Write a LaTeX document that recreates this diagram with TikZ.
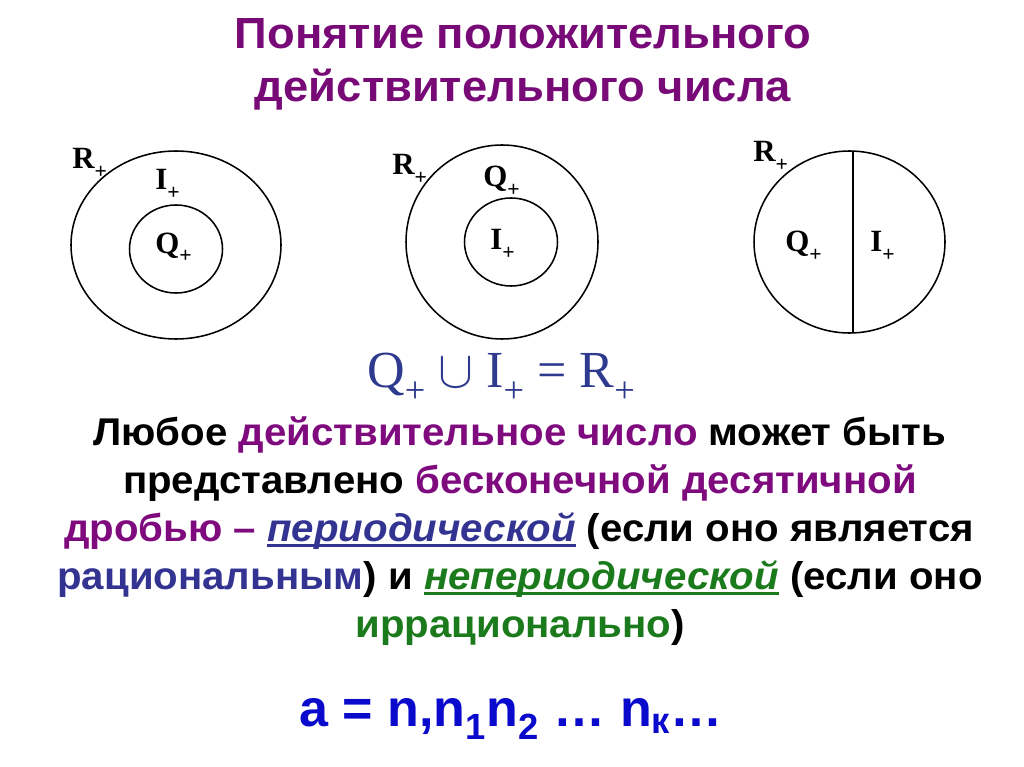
\documentclass[tikz,border=0pt]{standalone}
\usepackage{fontspec}
\setmainfont{Liberation Sans}
\newfontfamily\timesfont{Liberation Serif}
\newfontfamily\headfont[FakeStretch=1.04]{Liberation Sans}
\newfontfamily\bodyfont[FakeStretch=1.04]{Liberation Sans}
\usepackage{xcolor}
\usepackage{tikz}
\usetikzlibrary{positioning}
\definecolor{titlepurple}{HTML}{780A78}
\definecolor{textpurple}{HTML}{7E0A7E}
\definecolor{ratblue}{HTML}{333391}
\definecolor{irrgreen}{HTML}{1B7A1B}
\definecolor{unionblue}{HTML}{2E3A8E}
\definecolor{formblue}{HTML}{0A0ACC}
\newcommand\pl{\raisebox{-0.3em}{\scalebox{0.7}{+}}}
\newcommand\ulword[1]{\sbox0{#1}\rlap{\rule[-4pt]{\wd0}{2pt}}\usebox0}

\begin{document}
\begin{tikzpicture}[
    x=0.025cm, y=-0.025cm,
    setline/.style={line width=1.1pt},
    setlbl/.style={font=\fontsize{22}{24}\selectfont\timesfont\bfseries,
                   anchor=base west, inner sep=0pt},
    headline/.style={font=\fontsize{31}{36}\selectfont\headfont\bfseries,
                     text=titlepurple, anchor=base, inner sep=0pt},
    bodyline/.style={font=\fontsize{27.5}{32}\selectfont\bodyfont\bfseries,
                     anchor=base, inner sep=0pt},
  ]
  \useasboundingbox (0,0) rectangle (1024,767);

  % Title
  \node[headline] (titleA) at (523,49) {Понятие положительного};
  \node[headline] (titleB) at (523,102) {действительного числа};

  % Sets: Q inside R, I outside
  \coordinate (setA) at (176,245);
  \coordinate (innerA) at (176,249);
  \draw[setline] (setA) ellipse [x radius=105, y radius=94];
  \draw[setline] (innerA) ellipse [x radius=46.5, y radius=44];
  \node[setlbl] (rA) at (72,169) {R\pl};
  \node[setlbl] (iA) at (155,190) {I\pl};
  \node[setlbl] (qA) at (155,253) {Q\pl};

  % Sets: I inside R, Q outside
  \coordinate (setB) at (502,242);
  \coordinate (innerB) at (511,242);
  \draw[setline] (setB) ellipse [x radius=96, y radius=97];
  \draw[setline] (innerB) ellipse [x radius=46.5, y radius=44];
  \node[setlbl] (rB) at (392,175) {R\pl};
  \node[setlbl] (qB) at (483,187) {Q\pl};
  \node[setlbl] (iB) at (490,250) {I\pl};

  % Sets: R split in two halves
  \coordinate (setC) at (849.5,242);
  \coordinate (splitTop) at (853,151);
  \coordinate (splitBot) at (853,333);
  \draw[setline] (setC) ellipse [x radius=95.5, y radius=91];
  \draw[setline] (splitTop) -- (splitBot);
  \node[setlbl] (rC) at (753,162) {R\pl};
  \node[setlbl] (qC) at (785,252) {Q\pl};
  \node[setlbl] (iC) at (870,252) {I\pl};

  % Union
  \node[anchor=base, inner sep=0pt, text=unionblue,
        font=\fontsize{37}{40}\selectfont\timesfont] (union) at (501,387)
        {Q\pl\ \scalebox{1.5}{$\cup$} I\pl\ = R\pl};

  % Text
  \node[bodyline] (lineA) at (520,445)
    {Любое \textcolor{textpurple}{действительное число} может быть};
  \node[bodyline] (lineB) at (520,493)
    {представлено \textcolor{textpurple}{бесконечной десятичной}};
  \node[bodyline] (lineC) at (519,541)
    {\textcolor{textpurple}{дробью –} \textcolor{ratblue}{\itshape\ulword{периодической}} (если оно является};
  \node[bodyline] (lineD) at (520,589)
    {\textcolor{ratblue}{рациональным}) и \textcolor{irrgreen}{\itshape\ulword{непериодической}} (если оно};
  \node[bodyline] (lineE) at (520,637)
    {\textcolor{irrgreen}{иррационально})};

  % Decimal form
  \node[anchor=base, inner sep=0pt, text=formblue,
        font=\fontsize{37}{40}\selectfont\bfseries] (decimal) at (511,726)
        {a = n,n\textsubscript{1}n\textsubscript{2} … n\textsubscript{к}…};

\end{tikzpicture}
\end{document}
